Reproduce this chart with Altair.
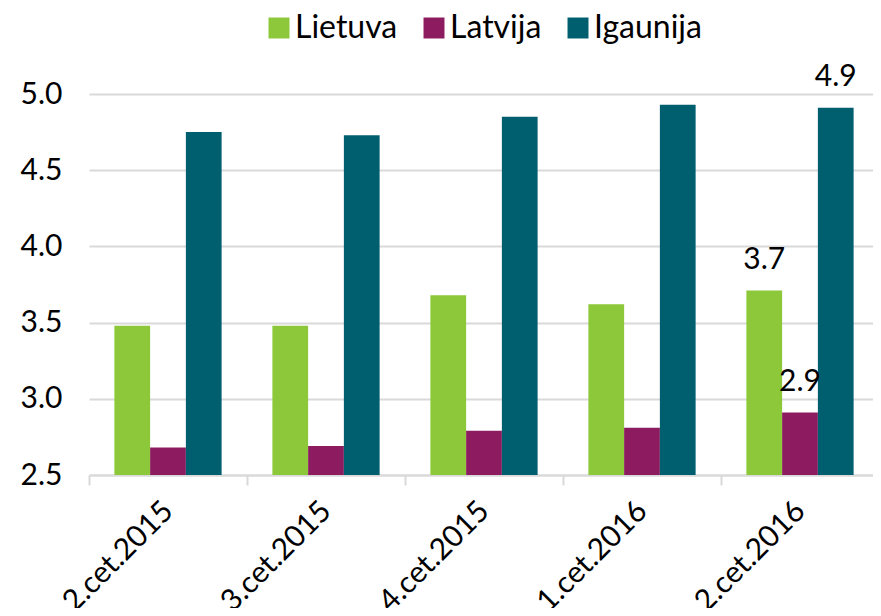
import altair as alt
import pandas as pd

periods = ["2.cet.2015", "3.cet.2015", "4.cet.2015", "1.cet.2016", "2.cet.2016"]
series = ["Lietuva", "Latvija", "Igaunija"]
lietuva = [3.48, 3.48, 3.68, 3.62, 3.71]
latvija = [2.68, 2.69, 2.79, 2.81, 2.91]
igaunija = [4.75, 4.73, 4.85, 4.93, 4.91]
colors = ["#8CC83A", "#8C1C5F", "#005F6F"]

rows = []
for i, p in enumerate(periods):
    for s, vals in zip(series, [lietuva, latvija, igaunija]):
        rows.append({"period": p, "series": s, "value": vals[i]})
df = pd.DataFrame(rows)

FONT = "Lato"

x = alt.X("period:N", sort=periods, title=None,
          scale=alt.Scale(range=[0, 790], paddingInner=0, paddingOuter=0),
          axis=alt.Axis(labelAngle=-45, labelAlign="right", labelBaseline="middle",
                        labelPadding=21, labelFontSize=30, labelFont=FONT, labelLimit=400,
                        labelColor="#000000", tickBand="extent", tickSize=10,
                        tickColor="#d9d9d9", tickWidth=2, domainColor="#d9d9d9",
                        domainWidth=2, grid=False, labelOverlap=False, labelBound=False))
y = alt.Y("value:Q", title=None,
          scale=alt.Scale(domain=[2.5, 5.0], nice=False, zero=False),
          axis=alt.Axis(values=[2.5, 3.0, 3.5, 4.0, 4.5, 5.0], format=".1f",
                        labelFontSize=30, labelFont=FONT, labelColor="#000000",
                        labelPadding=27, ticks=False, domain=False,
                        gridColor="#d9d9d9", gridWidth=2))
xo = alt.XOffset("series:N", sort=series,
                 scale=alt.Scale(paddingInner=0, paddingOuter=0.71))

bars = alt.Chart(df).mark_bar(clip=True).encode(
    x=x, y=y, xOffset=xo,
    color=alt.Color("series:N", sort=series,
                    scale=alt.Scale(domain=series, range=colors),
                    legend=alt.Legend(title=None, orient="none", legendX=174, legendY=-82,
                                      direction="horizontal", symbolType="square",
                                      symbolSize=440, symbolStrokeWidth=0, padding=0,
                                      labelFontSize=32, labelFont=FONT, labelColor="#000000",
                                      labelOffset=0, columnPadding=20, symbolOpacity=1)),
)

labels = alt.Chart(df).transform_filter(
    alt.datum.period == periods[-1]
).mark_text(baseline="bottom", dy=-16, fontSize=30, font=FONT, color="#000000").encode(
    x=x, y=y, xOffset=xo, text=alt.Text("value:Q", format=".1f"),
)

chart = alt.layer(bars, labels).properties(
    width=784, height=381,
    autosize=alt.AutoSizeParams(type="none"),
    padding={"left": 81, "top": 86, "right": 0, "bottom": 133},
).configure_view(stroke=None)

chart.save("out.html", embed_options={"renderer": "svg", "actions": False})
